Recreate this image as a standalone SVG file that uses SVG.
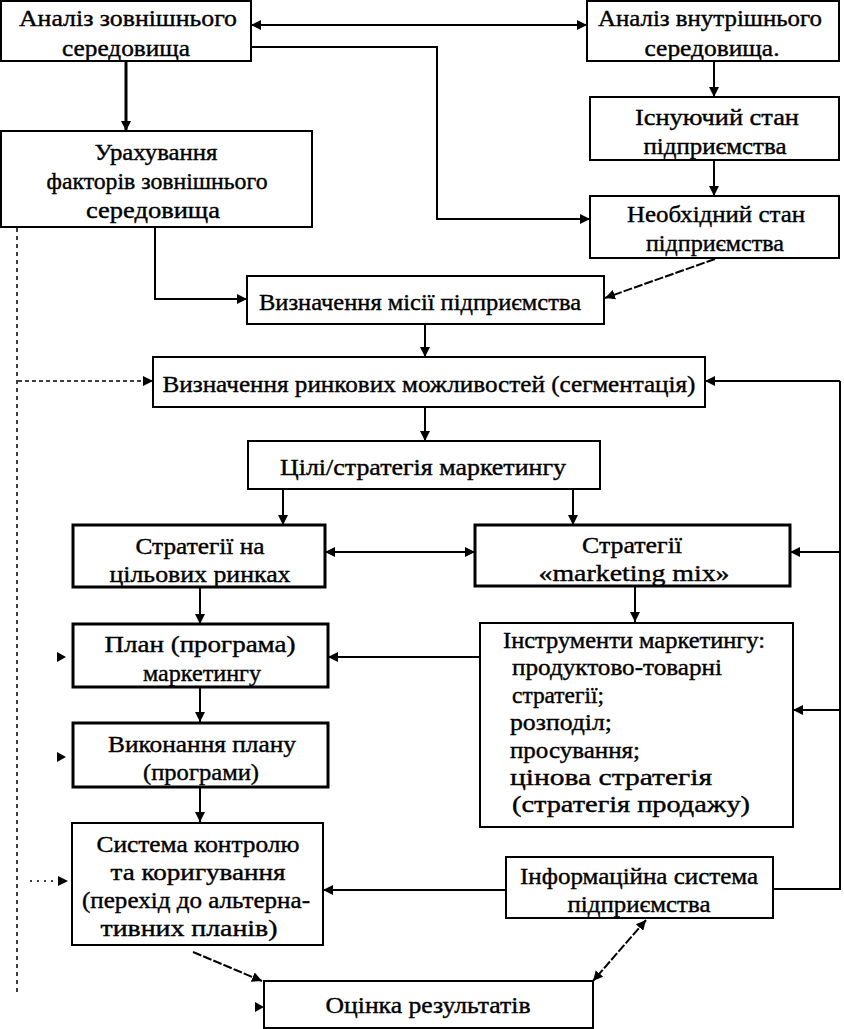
<svg xmlns="http://www.w3.org/2000/svg" width="844" height="1029" viewBox="0 0 844 1029">
<style>
.box{fill:#fff;stroke:#000;stroke-width:2}
.thick{stroke-width:3}
.t{font-family:"Liberation Serif","Times New Roman",serif;font-size:24px;fill:#000;text-anchor:middle;stroke:#000;stroke-width:0.4}
.tl{font-family:"Liberation Serif","Times New Roman",serif;font-size:24px;fill:#000;stroke:#000;stroke-width:0.4}
.c{fill:none;stroke:#000;stroke-width:2}
.dash{stroke-dasharray:9,2}
.dot{stroke-dasharray:4,4;stroke-width:1.5}
</style>
<defs>
<marker id="ah" markerUnits="userSpaceOnUse" markerWidth="10" markerHeight="10" refX="10" refY="5" orient="auto-start-reverse">
<path d="M0,0 L10,5 L0,10 z" fill="#000"/>
</marker>
</defs>
<rect width="844" height="1029" fill="#fff"/>
<g id="connectors">
<path class="c" d="M251,25 H587" marker-start="url(#ah)" marker-end="url(#ah)"/>
<path class="c" d="M251,47 H437 V219 H590" marker-end="url(#ah)"/>
<path class="c" style="stroke-width:3" d="M126,61 V131" marker-end="url(#ah)"/>
<path class="c" d="M714,61 V97" marker-end="url(#ah)"/>
<path class="c" d="M714,160 V196" marker-end="url(#ah)"/>
<path class="c" d="M155,227 V299 H247" marker-end="url(#ah)"/>
<path class="c dash" d="M715,259 L605,298" marker-end="url(#ah)"/>
<path class="c" d="M425,324 V357" marker-end="url(#ah)"/>
<path class="c" style="stroke-width:1.5;stroke-dasharray:4,3" d="M18,381 H153" marker-end="url(#ah)"/>
<path class="c" d="M840,381 H705" marker-end="url(#ah)"/>
<path class="c" d="M425,407 V441" marker-end="url(#ah)"/>
<path class="c" d="M283,489 V525" marker-end="url(#ah)"/>
<path class="c" d="M573,489 V525" marker-end="url(#ah)"/>
<path class="c" d="M325,552 H475" marker-start="url(#ah)" marker-end="url(#ah)"/>
<path class="c" d="M840,552 H790" marker-end="url(#ah)"/>
<path class="c" d="M200,587 V624" marker-end="url(#ah)"/>
<path class="c" d="M635,586 V622" marker-end="url(#ah)"/>
<path class="c" d="M480,657 H328" marker-end="url(#ah)"/>
<path class="c" d="M840,710 H793" marker-end="url(#ah)"/>
<path class="c" d="M200,687 V722" marker-end="url(#ah)"/>
<path class="c" d="M200,787 V822" marker-end="url(#ah)"/>
<path class="c" d="M506,890 H323" marker-end="url(#ah)"/>
<path class="c" d="M773,889 H840 V381"/>
<path class="c dash" d="M193,952 L262,981" marker-end="url(#ah)"/>
<path class="c dash" d="M646,920 L593,981" marker-start="url(#ah)" marker-end="url(#ah)"/>
<path class="c dot" d="M17,228 V995"/>
<path class="c dot" d="M30,881 H58" style="stroke-dasharray:2,5"/>
<path d="M57,652 L66,657 L57,662 z" fill="#000"/>
<path d="M57,752 L66,757 L57,762 z" fill="#000"/>
<path d="M58,876 L68,881 L58,886 z" fill="#000"/>
<path d="M255,1002 L264,1007 L255,1012 z" fill="#000"/>
</g>
<g id="n-ext">
<rect class="box" x="1" y="1" width="250" height="60"/>
<text class="t" x="128" y="26" textLength="218" lengthAdjust="spacingAndGlyphs">Аналіз зовнішнього</text>
<text class="t" x="126" y="56" textLength="128" lengthAdjust="spacingAndGlyphs">середовища</text>
</g>
<g id="n-int">
<rect class="box" x="587" y="1" width="252" height="60"/>
<text class="t" x="710" y="26" textLength="224" lengthAdjust="spacingAndGlyphs">Аналіз внутрішнього</text>
<text class="t" x="712" y="56" textLength="135" lengthAdjust="spacingAndGlyphs">середовища.</text>
</g>
<g id="n-factors">
<rect class="box" x="1" y="131" width="311" height="96"/>
<text class="t" x="156" y="160" textLength="123" lengthAdjust="spacingAndGlyphs">Урахування</text>
<text class="t" x="157" y="189" textLength="221" lengthAdjust="spacingAndGlyphs">факторів зовнішнього</text>
<text class="t" x="153" y="218" textLength="134" lengthAdjust="spacingAndGlyphs">середовища</text>
</g>
<g id="n-current">
<rect class="box" x="590" y="97" width="249" height="63"/>
<text class="t" x="717" y="125" textLength="164" lengthAdjust="spacingAndGlyphs">Існуючий стан</text>
<text class="t" x="715" y="154" textLength="143" lengthAdjust="spacingAndGlyphs">підприємства</text>
</g>
<g id="n-needed">
<rect class="box" x="590" y="196" width="249" height="62"/>
<text class="t" x="716" y="222" textLength="178" lengthAdjust="spacingAndGlyphs">Необхідний стан</text>
<text class="t" x="715" y="251" textLength="138" lengthAdjust="spacingAndGlyphs">підприємства</text>
</g>
<g id="n-mission">
<rect class="box" x="247" y="276" width="357" height="48"/>
<text class="t" x="420" y="310" textLength="322" lengthAdjust="spacingAndGlyphs">Визначення місії підприємства</text>
</g>
<g id="n-segm">
<rect class="box" x="153" y="357" width="552" height="50"/>
<text class="t" x="429" y="392" textLength="533" lengthAdjust="spacingAndGlyphs">Визначення ринкових можливостей (сегментація)</text>
</g>
<g id="n-goals">
<rect class="box" x="248" y="441" width="352" height="48"/>
<text class="t" x="423" y="475" textLength="286" lengthAdjust="spacingAndGlyphs">Цілі/стратегія маркетингу</text>
</g>
<g id="n-target">
<rect class="box thick" x="73" y="525" width="252" height="62"/>
<text class="t" x="200" y="554" textLength="129" lengthAdjust="spacingAndGlyphs">Стратегії на</text>
<text class="t" x="200" y="582" textLength="181" lengthAdjust="spacingAndGlyphs">цільових ринках</text>
</g>
<g id="n-mix">
<rect class="box thick" x="475" y="525" width="315" height="61"/>
<text class="t" x="632" y="553" textLength="100" lengthAdjust="spacingAndGlyphs">Стратегії</text>
<text class="t" x="634" y="581" textLength="191" lengthAdjust="spacingAndGlyphs">«marketing mix»</text>
</g>
<g id="n-plan">
<rect class="box thick" x="73" y="624" width="255" height="63"/>
<text class="t" x="200" y="652" textLength="191" lengthAdjust="spacingAndGlyphs">План (програма)</text>
<text class="t" x="202" y="681" textLength="118" lengthAdjust="spacingAndGlyphs">маркетингу</text>
</g>
<g id="n-tools">
<rect class="box" x="480" y="623" width="313" height="204"/>
<text class="tl" x="503" y="648" textLength="262" lengthAdjust="spacingAndGlyphs">Інструменти маркетингу:</text>
<text class="tl" x="512" y="675" textLength="210" lengthAdjust="spacingAndGlyphs">продуктово-товарні</text>
<text class="tl" x="512" y="703" textLength="92" lengthAdjust="spacingAndGlyphs">стратегії;</text>
<text class="tl" x="510" y="730" textLength="102" lengthAdjust="spacingAndGlyphs">розподіл;</text>
<text class="tl" x="510" y="758" textLength="130" lengthAdjust="spacingAndGlyphs">просування;</text>
<text class="tl" x="510" y="785" textLength="202" lengthAdjust="spacingAndGlyphs">цінова стратегія</text>
<text class="tl" x="512" y="812" textLength="238" lengthAdjust="spacingAndGlyphs">(стратегія продажу)</text>
</g>
<g id="n-exec">
<rect class="box thick" x="73" y="723" width="255" height="64"/>
<text class="t" x="202" y="752" textLength="188" lengthAdjust="spacingAndGlyphs">Виконання плану</text>
<text class="t" x="201" y="780" textLength="116" lengthAdjust="spacingAndGlyphs">(програми)</text>
</g>
<g id="n-control">
<rect class="box" x="72" y="823" width="251" height="122"/>
<text class="t" x="198" y="852" textLength="203" lengthAdjust="spacingAndGlyphs">Система контролю</text>
<text class="t" x="198" y="880" textLength="175" lengthAdjust="spacingAndGlyphs">та коригування</text>
<text class="t" x="196" y="908" textLength="228" lengthAdjust="spacingAndGlyphs">(перехід до альтерна-</text>
<text class="t" x="189" y="936" textLength="177" lengthAdjust="spacingAndGlyphs">тивних планів)</text>
</g>
<g id="n-info">
<rect class="box" x="506" y="857" width="267" height="61"/>
<text class="t" x="639" y="884" textLength="238" lengthAdjust="spacingAndGlyphs">Інформаційна система</text>
<text class="t" x="639" y="912" textLength="143" lengthAdjust="spacingAndGlyphs">підприємства</text>
</g>
<g id="n-eval">
<rect class="box" x="264" y="981" width="329" height="47"/>
<text class="t" x="428" y="1013" textLength="205" lengthAdjust="spacingAndGlyphs">Оцінка результатів</text>
</g>
</svg>
